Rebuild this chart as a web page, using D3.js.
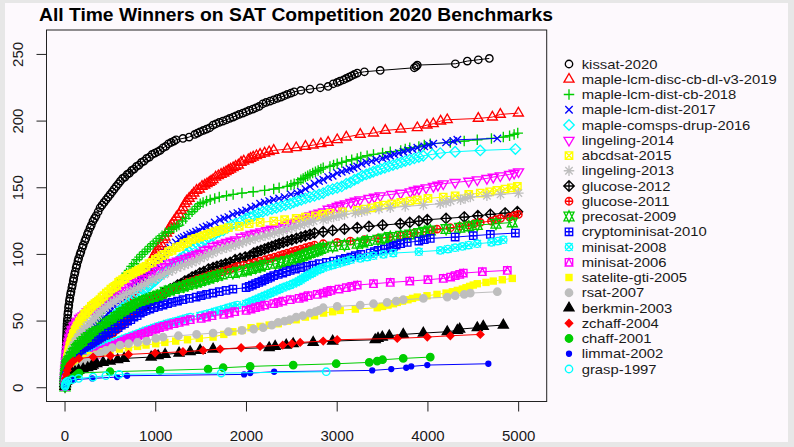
<!DOCTYPE html>
<html>
<head>
<meta charset="utf-8">
<script src="https://cdnjs.cloudflare.com/ajax/libs/d3/7.8.5/d3.min.js"></script>
<style>
  html, body { margin: 0; padding: 0; background: #e7e7e7; }
  svg { display: block; font-family: "Liberation Sans", Arial, Helvetica, sans-serif; }
</style>
</head>
<body>
<svg id="chart" width="794" height="447"></svg>
<script>
'use strict';

const solverNames = [
    'kissat-2020', 'maple-lcm-disc-cb-dl-v3-2019', 'maple-lcm-dist-cb-2018', 'maple-lcm-dist-2017',
    'maple-comsps-drup-2016', 'lingeling-2014', 'abcdsat-2015', 'lingeling-2013', 'glucose-2012',
    'glucose-2011', 'precosat-2009', 'cryptominisat-2010', 'minisat-2008', 'minisat-2006',
    'satelite-gti-2005', 'rsat-2007', 'berkmin-2003', 'zchaff-2004', 'chaff-2001', 'limmat-2002', 'grasp-1997'
];
const xTicks = [0, 1000, 2000, 3000, 4000, 5000];
const yTicks = [0, 50, 100, 150, 200, 250];

// [time in seconds, number of solved instances]
const kissat2020 = [[0,2],[0,4],[1,6],[1,8],[2,10],[2,12],[3,14],[4,16],[5,18],[6,20],[7,22],[8,24],[10,26],[11,28],[12,30],[13,32],[14,34],[15,36],[16,38],[18,40],[19,42],[20,44],[21,46],[22,48],[24,50],[27,52],[30,55],[34,57],[38,60],[42,62],[48,65],[53,67],[60,70],[66,72],[75,75],[81,77],[90,80],[96,82],[105,85],[112,87],[122,90],[130,92],[142,95],[150,97],[165,100],[175,102],[190,105],[200,107],[218,110],[230,112],[246,115],[258,117],[276,120],[290,122],[308,125],[325,127],[342,129],[365,132],[386,135],[408,137],[430,139],[452,141],[475,143],[498,145],[520,147],[542,149],[565,151],[588,153],[610,155],[635,157],[660,158],[685,160],[710,161],[735,163],[760,164],[788,166],[815,167],[842,169],[870,170],[900,172],[930,173],[960,175],[990,176],[1020,177],[1048,178],[1080,180],[1110,181],[1140,183],[1170,184],[1200,185],[1224,186],[1300,187],[1368,188],[1430,190],[1460,191],[1489,192],[1525,193],[1560,194],[1595,195],[1632,197],[1665,198],[1700,199],[1740,200],[1780,201],[1815,202],[1853,203],[1885,204],[1920,205],[1960,206],[1996,207],[2030,208],[2070,209],[2105,210],[2140,211],[2180,213],[2217,214],[2260,215],[2300,216],[2340,217],[2380,218],[2415,219],[2450,220],[2490,221],[2526,222],[2600,223],[2700,224],[2813,225],[2900,226],[2956,228],[3000,229],[3030,230],[3070,231],[3100,232],[3130,233],[3160,234],[3190,235],[3221,236],[3300,237],[3474,238],[3850,240],[3870,241],[3883,242],[4302,243],[4434,245],[4555,246],[4677,247]];
const maple2019 = [[0,1],[1,3],[3,5],[6,7],[10,8],[17,10],[25,11],[35,13],[45,14],[57,16],[70,17],[85,19],[100,20],[118,22],[135,23],[152,25],[170,26],[190,28],[210,29],[230,31],[250,32],[270,34],[290,35],[310,37],[330,38],[350,40],[370,41],[390,43],[410,44],[430,46],[450,47],[470,48],[490,49],[510,50],[530,51],[550,53],[570,55],[590,57],[610,59],[630,60],[650,62],[670,64],[690,66],[710,68],[730,70],[750,72],[770,74],[790,76],[810,78],[830,80],[850,83],[870,85],[890,88],[910,90],[930,93],[950,95],[970,98],[987,100],[1004,102],[1022,104],[1040,106],[1060,108],[1080,111],[1100,113],[1120,116],[1140,118],[1160,121],[1180,123],[1200,125],[1228,128],[1257,130],[1280,133],[1300,135],[1320,138],[1340,140],[1368,142],[1395,144],[1420,146],[1450,148],[1480,149],[1510,151],[1540,152],[1565,153],[1590,154],[1610,155],[1632,156],[1660,158],[1690,159],[1720,160],[1750,161],[1775,162],[1800,163],[1825,164],[1853,165],[1880,166],[1910,167],[1940,169],[1970,170],[2020,171],[2045,172],[2074,173],[2110,174],[2150,175],[2200,176],[2250,177],[2300,178],[2450,179],[2548,180],[2650,181],[2735,182],[2820,183],[2900,184],[3000,186],[3100,188],[3254,190],[3400,191],[3530,193],[3700,194],[3883,195],[3990,197],[4059,198],[4140,200],[4213,201],[4555,202],[4710,203],[4798,205],[4997,206]];
const maple2018 = [[0,1],[1,3],[3,5],[5,7],[8,8],[11,10],[15,11],[20,13],[25,14],[32,16],[40,17],[50,19],[60,20],[72,22],[85,23],[97,25],[110,26],[125,28],[140,29],[155,31],[170,32],[185,34],[200,36],[218,38],[235,40],[252,42],[270,44],[285,46],[300,48],[320,50],[340,52],[360,54],[380,56],[400,58],[420,60],[440,62],[460,64],[480,66],[500,68],[525,71],[550,73],[575,76],[600,78],[625,81],[650,83],[678,86],[706,88],[733,91],[760,93],[790,96],[820,98],[850,100],[880,102],[910,104],[940,106],[972,108],[1004,110],[1037,112],[1070,114],[1105,116],[1140,117],[1170,119],[1200,120],[1230,121],[1257,122],[1295,125],[1330,127],[1365,130],[1400,132],[1430,134],[1460,136],[1490,138],[1522,139],[1560,140],[1600,141],[1650,142],[1700,143],[1780,144],[1853,145],[1950,146],[2074,147],[2200,148],[2300,149],[2360,150],[2450,151],[2490,152],[2526,153],[2565,154],[2600,156],[2625,157],[2650,158],[2675,159],[2700,160],[2730,161],[2760,162],[2790,163],[2820,164],[2846,165],[2920,166],[2960,167],[3000,168],[3050,169],[3100,170],[3160,171],[3221,172],[3260,173],[3330,174],[3400,175],[3500,176],[3585,177],[3700,178],[3750,179],[3800,180],[3900,181],[3960,182],[4026,183],[4247,184],[4400,185],[4544,186],[4700,187],[4831,188],[4900,189],[4950,190],[4990,191]];
const maple2017 = [[0,1],[1,3],[2,5],[4,7],[6,8],[9,10],[12,11],[16,13],[20,14],[27,16],[35,17],[45,19],[55,20],[67,22],[80,23],[95,25],[110,26],[122,28],[135,29],[150,31],[165,32],[182,34],[200,35],[220,37],[240,38],[260,40],[280,41],[300,43],[320,44],[340,46],[360,47],[380,49],[400,50],[420,52],[440,53],[460,55],[480,56],[500,58],[520,59],[540,61],[560,62],[583,64],[607,66],[628,68],[650,69],[675,71],[700,73],[725,75],[750,76],[775,78],[800,79],[825,81],[850,82],[875,84],[900,85],[920,87],[938,88],[960,90],[980,91],[1005,93],[1030,95],[1055,97],[1080,99],[1105,101],[1130,103],[1160,105],[1190,107],[1222,109],[1257,111],[1285,112],[1310,113],[1345,114],[1380,115],[1410,116],[1445,117],[1480,118],[1520,120],[1560,121],[1600,122],[1650,124],[1710,126],[1755,127],[1800,128],[1850,130],[1900,131],[1950,132],[1996,133],[2050,135],[2100,136],[2150,138],[2200,139],[2250,140],[2300,141],[2360,142],[2420,143],[2490,145],[2559,146],[2600,147],[2650,149],[2700,151],[2750,153],[2800,155],[2846,156],[2900,158],[2950,159],[3000,161],[3050,162],[3100,163],[3140,164],[3180,165],[3221,166],[3270,168],[3320,169],[3380,170],[3430,171],[3500,172],[3540,173],[3585,174],[3630,175],[3680,176],[3730,177],[3780,178],[3830,179],[3883,180],[3960,181],[4010,182],[4059,183],[4200,184],[4280,185],[4324,186],[4765,187]];
const maple2016 = [[0,1],[1,3],[2,5],[4,7],[6,8],[9,10],[12,11],[17,13],[22,14],[30,16],[40,17],[50,18],[60,19],[75,21],[90,22],[107,24],[125,25],[145,27],[165,28],[187,30],[210,31],[232,33],[255,34],[278,36],[300,37],[322,39],[345,40],[365,42],[386,43],[408,45],[430,46],[452,48],[475,49],[497,51],[520,52],[542,54],[565,55],[586,57],[607,58],[633,60],[660,61],[690,63],[720,65],[750,66],[780,68],[810,70],[840,71],[865,73],[890,74],[915,76],[938,77],[965,79],[990,80],[1020,82],[1050,84],[1080,86],[1110,87],[1140,89],[1170,91],[1195,92],[1220,94],[1245,95],[1268,97],[1300,98],[1330,100],[1365,102],[1400,104],[1435,105],[1470,107],[1510,109],[1550,111],[1590,113],[1632,114],[1665,116],[1700,117],[1745,118],[1790,120],[1835,122],[1880,123],[1940,125],[1996,127],[2040,128],[2080,129],[2130,131],[2180,132],[2230,133],[2280,134],[2330,135],[2380,136],[2430,137],[2482,138],[2520,139],[2560,140],[2605,141],[2650,142],[2700,143],[2750,144],[2800,145],[2846,146],[2900,148],[2950,149],[3000,150],[3050,151],[3100,153],[3144,154],[3190,156],[3230,157],[3275,159],[3320,160],[3360,161],[3397,162],[3440,163],[3480,164],[3525,165],[3570,166],[3615,167],[3662,168],[3705,169],[3750,170],[3800,171],[3850,172],[3900,173],[3949,174],[4050,175],[4136,176],[4300,177],[4577,178],[4964,179]];
const lingeling2014 = [[0,1],[1,3],[2,5],[3,7],[4,8],[5,10],[6,11],[7,13],[9,14],[10,16],[12,17],[14,19],[16,20],[18,22],[20,23],[22,25],[25,26],[28,28],[31,29],[34,31],[38,32],[42,34],[46,35],[50,37],[55,38],[62,40],[68,41],[76,43],[85,44],[97,46],[110,47],[125,49],[140,50],[160,52],[180,53],[200,54],[221,55],[245,57],[270,58],[300,59],[330,60],[358,61],[386,62],[418,64],[450,65],[485,67],[520,68],[555,70],[590,72],[625,73],[662,75],[700,76],[740,78],[780,79],[820,81],[860,82],[900,84],[935,85],[971,87],[1015,88],[1060,90],[1105,91],[1150,93],[1195,94],[1240,95],[1285,96],[1330,97],[1370,98],[1410,99],[1450,100],[1489,101],[1535,103],[1580,104],[1630,106],[1680,107],[1730,108],[1780,109],[1830,110],[1880,111],[1940,113],[1996,114],[2050,115],[2100,116],[2160,117],[2220,118],[2275,119],[2330,120],[2385,121],[2440,122],[2495,123],[2548,124],[2600,126],[2650,127],[2700,129],[2750,130],[2800,131],[2850,132],[2900,134],[2950,135],[3000,136],[3033,137],[3090,138],[3150,139],[3200,140],[3250,141],[3350,142],[3410,143],[3474,144],[3600,145],[3700,146],[3805,147],[3850,148],[3900,149],[3980,150],[4060,151],[4110,152],[4169,153],[4300,154],[4450,155],[4544,156],[4650,157],[4720,158],[4798,159],[4900,160],[4950,161],[4999,162]];
const abcdsat2015 = [[0,1],[1,3],[2,5],[3,6],[5,8],[7,10],[9,11],[11,13],[13,14],[15,16],[18,17],[21,19],[24,20],[27,22],[31,23],[35,25],[39,26],[43,28],[48,29],[53,31],[58,32],[64,34],[70,35],[77,37],[85,38],[92,40],[100,41],[110,43],[120,44],[132,46],[145,47],[157,49],[170,50],[185,52],[200,53],[216,55],[232,56],[250,58],[270,59],[290,61],[310,62],[330,63],[350,64],[368,65],[386,66],[408,68],[430,69],[455,71],[480,72],[505,74],[530,75],[550,76],[570,77],[590,79],[607,80],[635,81],[660,82],[690,84],[720,85],[750,86],[780,87],[810,88],[840,89],[865,90],[893,91],[925,93],[960,94],[995,96],[1030,97],[1065,99],[1100,100],[1140,102],[1180,103],[1225,105],[1268,106],[1310,108],[1350,109],[1395,111],[1440,112],[1485,113],[1530,114],[1570,115],[1610,116],[1655,117],[1699,118],[1750,119],[1800,120],[1920,121],[2030,123],[2151,124],[2300,125],[2420,126],[2548,127],[2650,128],[2760,129],[2840,130],[2923,131],[3060,132],[3221,133],[3300,134],[3380,135],[3450,136],[3508,137],[3600,138],[3700,139],[3800,140],[3883,141],[4000,142],[4169,143],[4300,144],[4450,145],[4577,146],[4680,147],[4760,148],[4850,149],[4920,150],[4986,151]];
const lingeling2013 = [[0,1],[1,3],[3,5],[5,7],[7,8],[9,10],[12,11],[15,13],[18,14],[21,16],[25,17],[30,19],[35,20],[41,22],[48,23],[55,25],[62,26],[70,28],[80,29],[90,31],[100,32],[112,34],[125,35],[137,37],[150,38],[165,40],[180,41],[197,43],[215,44],[235,46],[255,47],[277,49],[300,50],[322,52],[345,54],[365,55],[386,57],[413,58],[440,60],[470,61],[500,63],[535,64],[570,66],[605,67],[640,69],[678,70],[717,72],[758,73],[800,75],[840,76],[880,78],[920,79],[960,81],[1005,82],[1048,84],[1095,85],[1140,87],[1185,88],[1230,90],[1275,91],[1320,92],[1360,93],[1400,94],[1445,95],[1489,97],[1535,98],[1580,100],[1630,101],[1680,103],[1730,104],[1780,105],[1830,106],[1880,107],[1920,108],[1960,109],[2000,110],[2041,111],[2095,112],[2150,113],[2205,114],[2260,115],[2310,116],[2360,117],[2405,118],[2450,119],[2500,120],[2548,121],[2595,122],[2640,123],[2690,124],[2740,125],[2846,126],[2900,127],[2960,128],[3020,129],[3080,130],[3200,131],[3270,132],[3330,133],[3460,134],[3585,135],[3750,136],[3950,137],[4136,138],[4200,139],[4250,140],[4360,141],[4410,142],[4467,143],[4650,144],[4800,145],[4997,146]];
const glucose2012 = [[0,1],[2,3],[3,5],[5,7],[7,8],[9,10],[12,11],[16,13],[20,14],[25,16],[30,17],[37,18],[45,19],[55,20],[65,21],[75,22],[85,23],[97,24],[110,25],[130,26],[150,27],[175,29],[200,30],[225,32],[250,33],[280,35],[310,36],[348,38],[386,40],[418,41],[450,43],[485,45],[520,46],[550,47],[580,48],[610,50],[640,51],[670,53],[700,54],[735,56],[770,57],[805,59],[840,60],[875,62],[910,63],[945,65],[980,66],[1015,68],[1048,69],[1085,71],[1120,72],[1160,74],[1200,75],[1240,77],[1280,78],[1320,80],[1360,81],[1400,83],[1440,84],[1485,86],[1530,87],[1580,89],[1632,90],[1675,91],[1720,92],[1770,93],[1820,94],[1875,96],[1930,97],[1985,98],[2041,99],[2080,101],[2120,102],[2160,103],[2200,104],[2240,105],[2280,106],[2320,107],[2360,108],[2405,109],[2450,110],[2500,111],[2550,112],[2600,113],[2650,114],[2700,115],[2750,116],[2846,117],[2950,118],[3080,119],[3221,120],[3350,121],[3500,122],[3695,123],[3800,124],[3900,125],[3993,126],[4200,127],[4400,128],[4550,129],[4688,130],[4850,131],[4986,132]];
const glucose2011 = [[0,1],[2,3],[3,5],[5,7],[7,8],[10,10],[13,11],[17,13],[22,14],[28,16],[35,17],[45,18],[55,19],[67,20],[80,21],[95,22],[110,23],[130,24],[154,25],[177,26],[200,27],[225,28],[250,29],[275,30],[300,31],[342,32],[370,34],[400,35],[430,37],[460,38],[495,40],[530,41],[555,43],[580,44],[605,46],[630,47],[655,49],[680,50],[705,52],[730,54],[755,55],[780,57],[800,59],[816,60],[848,62],[880,63],[920,65],[960,66],[1005,68],[1048,69],[1090,71],[1130,72],[1175,74],[1220,75],[1260,76],[1300,77],[1350,79],[1400,80],[1445,81],[1489,82],[1535,83],[1580,84],[1630,85],[1680,86],[1730,87],[1780,88],[1820,89],[1860,90],[1900,91],[1970,92],[2041,93],[2095,94],[2150,95],[2205,96],[2260,97],[2310,98],[2360,99],[2405,100],[2450,101],[2500,102],[2548,103],[2600,104],[2650,105],[2700,106],[2750,107],[2846,108],[3000,109],[3144,110],[3300,111],[3450,112],[3580,113],[3695,114],[3770,115],[3850,116],[3980,117],[4040,118],[4100,119],[4247,120],[4350,121],[4450,122],[4510,123],[4577,124],[4700,125],[4750,126],[4800,127],[4900,128],[4950,129],[4997,130]];
const precosat2009 = [[0,1],[1,3],[2,5],[4,7],[5,8],[7,10],[9,11],[11,13],[14,14],[18,16],[22,17],[28,18],[35,19],[45,20],[55,21],[67,23],[80,24],[95,26],[110,27],[125,29],[140,30],[152,31],[165,32],[187,34],[210,35],[235,37],[260,38],[290,40],[320,41],[353,42],[386,43],[408,45],[430,46],[455,48],[480,49],[505,50],[530,51],[560,53],[590,54],[620,56],[650,57],[685,59],[720,60],[750,61],[780,62],[805,63],[827,64],[865,65],[900,66],[940,67],[980,68],[1020,69],[1060,70],[1105,72],[1150,73],[1200,74],[1257,75],[1305,76],[1350,77],[1400,78],[1450,79],[1495,80],[1540,81],[1585,82],[1632,83],[1680,84],[1730,85],[1850,86],[1920,87],[1996,88],[2050,89],[2100,90],[2150,91],[2200,92],[2320,93],[2380,94],[2440,95],[2495,96],[2548,97],[2585,98],[2620,99],[2660,100],[2700,101],[2740,102],[2780,103],[2815,104],[2846,105],[2950,106],[3080,107],[3221,108],[3280,109],[3330,110],[3450,111],[3520,112],[3585,113],[3700,114],[3800,115],[3900,116],[3960,117],[4026,118],[4200,119],[4350,120],[4450,121],[4544,122],[4750,123],[4930,124]];
const cryptominisat2010 = [[0,1],[2,2],[3,4],[5,5],[8,6],[11,7],[15,8],[20,9],[25,10],[32,11],[40,12],[50,13],[60,14],[72,15],[85,16],[110,17],[130,19],[150,20],[170,22],[190,23],[212,25],[235,26],[255,27],[276,28],[298,30],[320,31],[345,33],[370,35],[395,36],[419,38],[450,39],[480,41],[515,42],[550,44],[585,45],[620,47],[655,48],[690,50],[725,51],[760,53],[795,54],[830,56],[860,57],[893,58],[935,59],[980,60],[1030,61],[1080,62],[1130,63],[1180,64],[1240,65],[1300,66],[1370,67],[1445,68],[1500,69],[1560,70],[1630,71],[1700,72],[1775,73],[1850,74],[1996,75],[2030,76],[2065,77],[2100,78],[2135,79],[2170,80],[2200,81],[2235,82],[2265,83],[2300,84],[2350,85],[2400,86],[2440,87],[2482,88],[2540,89],[2600,90],[2665,91],[2730,92],[2800,93],[2880,94],[2960,95],[3033,96],[3090,97],[3150,98],[3200,99],[3260,100],[3364,101],[3410,102],[3450,103],[3520,104],[3585,105],[3620,106],[3650,107],[3700,108],[3772,109],[3900,110],[3960,111],[4026,112],[4300,113],[4500,114],[4688,115],[4964,116]];
const minisat2008 = [[0,1],[1,2],[3,3],[5,4],[8,5],[11,6],[15,7],[20,8],[25,9],[32,10],[40,11],[70,12],[110,13],[125,14],[138,15],[150,16],[167,17],[183,18],[200,19],[213,20],[227,21],[240,22],[258,23],[276,24],[303,25],[330,26],[355,27],[378,28],[400,29],[425,30],[450,31],[473,32],[496,33],[538,34],[580,35],[620,36],[660,37],[700,38],[740,39],[780,40],[820,41],[857,42],[893,43],[937,44],[980,45],[1025,46],[1070,47],[1120,48],[1170,49],[1225,50],[1280,51],[1330,52],[1380,53],[1489,54],[1545,55],[1600,56],[1650,57],[1700,58],[1750,59],[1800,60],[1850,61],[1900,62],[1996,63],[2030,64],[2065,65],[2100,66],[2135,67],[2165,68],[2200,69],[2235,70],[2265,71],[2300,72],[2335,73],[2365,74],[2400,75],[2440,76],[2480,77],[2515,78],[2548,79],[2575,80],[2600,81],[2620,82],[2645,83],[2670,84],[2700,85],[2725,86],[2750,87],[2780,88],[2815,89],[2846,90],[2900,91],[2950,92],[3000,93],[3050,94],[3100,95],[3150,96],[3254,97],[3330,98],[3400,99],[3510,100],[3618,101],[3900,102],[4136,103],[4220,104],[4300,105],[4380,106],[4450,107],[4544,108],[4700,109],[4770,110],[4831,111]];
const minisat2006 = [[0,1],[1,2],[3,3],[5,4],[8,5],[11,6],[15,7],[25,8],[40,9],[55,10],[67,11],[80,12],[95,13],[110,14],[125,15],[140,16],[165,17],[187,18],[210,19],[227,20],[243,21],[260,22],[290,23],[320,24],[342,25],[364,26],[386,27],[418,28],[450,29],[485,30],[520,31],[555,32],[590,33],[620,34],[650,35],[683,36],[717,37],[758,38],[800,39],[840,40],[880,41],[920,42],[960,43],[1000,44],[1040,45],[1090,46],[1140,47],[1200,48],[1257,49],[1320,50],[1380,51],[1500,52],[1560,53],[1620,54],[1750,55],[1810,56],[1870,57],[1996,58],[2050,59],[2100,60],[2150,61],[2200,62],[2300,63],[2350,64],[2400,65],[2482,66],[2580,67],[2630,68],[2680,69],[2780,70],[2846,71],[2890,72],[2930,73],[3020,74],[3100,75],[3160,76],[3221,77],[3400,78],[3585,79],[3800,80],[4000,81],[4169,82],[4250,83],[4300,84],[4350,85],[4390,86],[4600,87],[4875,88]];
const sateliteGti2005 = [[0,1],[3,2],[8,4],[15,6],[25,7],[40,8],[55,10],[80,12],[110,14],[140,16],[170,18],[200,20],[232,22],[280,24],[350,25],[420,27],[496,28],[600,29],[700,30],[800,31],[893,32],[1000,33],[1100,34],[1220,35],[1350,36],[1480,37],[1632,38],[1750,40],[1850,42],[1950,43],[2050,45],[2150,46],[2250,47],[2350,48],[2450,50],[2548,51],[2650,53],[2750,54],[2850,56],[2950,57],[3033,58],[3200,59],[3441,60],[3500,61],[3560,62],[3620,63],[3662,64],[3720,65],[3780,66],[3830,67],[3883,68],[3990,69],[4100,70],[4200,71],[4270,72],[4324,73],[4380,74],[4420,75],[4460,76],[4500,77],[4544,78],[4640,79],[4720,80],[4820,81],[4930,82]];
const rsat2007 = [[0,1],[3,2],[8,4],[15,6],[25,8],[40,9],[60,10],[85,12],[110,13],[150,15],[190,17],[235,20],[276,22],[330,24],[390,26],[450,28],[520,30],[607,32],[700,33],[800,34],[900,35],[1000,37],[1081,38],[1250,39],[1450,40],[1632,41],[1800,42],[1950,43],[2080,44],[2184,45],[2280,47],[2350,49],[2420,50],[2480,51],[2548,53],[2620,54],[2700,56],[2760,57],[2800,58],[2846,60],[3000,61],[3254,62],[3400,63],[3550,64],[3650,65],[3728,66],[3950,67],[4213,68],[4300,69],[4400,70],[4467,71],[4765,72]];
const berkmin2003 = [[0,1],[5,3],[15,5],[30,7],[50,9],[80,11],[110,12],[150,13],[200,14],[250,15],[290,16],[309,17],[350,18],[420,19],[496,20],[580,21],[651,22],[949,23],[1026,24],[1103,25],[1257,26],[1379,27],[1489,28],[1632,29],[2250,30],[2316,31],[2438,32],[2515,33],[2735,34],[2950,35],[3419,36],[3450,37],[3497,38],[3574,39],[3728,40],[3949,41],[4213,42],[4324,43],[4350,44],[4544,45],[4610,46],[4831,47]];
const zchaff2004 = [[0,1],[3,4],[8,7],[15,10],[25,13],[40,16],[60,18],[90,20],[154,22],[309,23],[500,24],[700,25],[993,26],[1300,27],[1522,28],[1710,29],[1941,30],[2150,31],[2400,32],[2500,33],[2592,34],[2846,35],[3000,36],[3662,37],[3993,38],[4247,39],[4577,40]];
const chaff2001 = [[0,1],[3,2],[6,3],[10,4],[30,5],[60,6],[80,7],[100,8],[120,9],[140,10],[154,11],[496,12],[1048,13],[1577,14],[1743,15],[2041,16],[2515,17],[2989,18],[3353,19],[3441,20],[3500,21],[3728,22],[4026,23]];
const limmat2002 = [[0,1],[3,2],[10,3],[25,4],[44,5],[100,6],[300,7],[574,8],[684,9],[1974,10],[2041,11],[2305,12],[3386,13],[3596,14],[3761,15],[3816,16],[3993,17],[4666,18]];
const grasp1997 = [[0,1],[2,2],[5,3],[12,4],[30,5],[80,6],[150,7],[309,8],[450,9],[596,10],[1721,11],[2879,12]];

const solverSeries = [kissat2020, maple2019, maple2018, maple2017, maple2016, lingeling2014, abcdsat2015,
    lingeling2013, glucose2012, glucose2011, precosat2009, cryptominisat2010, minisat2008, minisat2006,
    sateliteGti2005, rsat2007, berkmin2003, zchaff2004, chaff2001, limmat2002, grasp1997];

// R's old default palette, series i gets col = i and pch = i
const rPalette = ['#000000', '#FF0000', '#00CD00', '#0000FF', '#00FFFF', '#FF00FF', '#FFFF00', '#BEBEBE'];

const h = 3.7; // symbol radius
const sw = 1.35; // symbol line width

const margin = {left: 46.5, right: 546.7, top: 30, bottom: 401.5};
const xlim = [0, 5105];
const ylim = [0, 258];
const xpad = (xlim[1] - xlim[0]) * 0.04;
const ypad = (ylim[1] - ylim[0]) * 0.04;

const x = d3.scaleLinear().domain([xlim[0] - xpad, xlim[1] + xpad]).range([margin.left, margin.right]);
const y = d3.scaleLinear().domain([ylim[0] - ypad, ylim[1] + ypad]).range([margin.bottom, margin.top]);

let circlePath = (r) => `M${r},0A${r},${r} 0 1,1 ${-r},0A${r},${r} 0 1,1 ${r},0Z`;
let polyPath = (pts) => 'M' + pts.map(p => p.join(',')).join('L') + 'Z';
let plusPath = (a) => `M${-a},0H${a}M0,${-a}V${a}`;
let crossPath = (a) => `M${-a},${-a}L${a},${a}M${-a},${a}L${a},${-a}`;
let squarePath = (a) => `M${-a},${-a}H${a}V${a}H${-a}Z`;
let diamondPath = (a) => `M0,${-a}L${a},0L0,${a}L${-a},0Z`;
let triPath = (dir) => {
    const r = 1.5551 * h, xc = 1.3468 * h, yc = 0.7776 * h;
    return polyPath([[0, -r * dir], [xc, yc * dir], [-xc, yc * dir]]);
};

let symbolSpec = (pch, col) => {
    const open = {fill: 'none', stroke: col};
    const solid = {fill: col, stroke: col};
    switch (pch) {
        case 1: return {d: circlePath(h), ...open};
        case 2: return {d: triPath(1), ...open};
        case 3: return {d: plusPath(1.414 * h), ...open};
        case 4: return {d: crossPath(h), ...open};
        case 5: return {d: diamondPath(1.414 * h), ...open};
        case 6: return {d: triPath(-1), ...open};
        case 7: return {d: squarePath(h) + crossPath(h), ...open};
        case 8: return {d: crossPath(h) + plusPath(1.414 * h), ...open};
        case 9: return {d: diamondPath(1.414 * h) + plusPath(1.414 * h), ...open};
        case 10: return {d: circlePath(h) + plusPath(h), ...open};
        case 11: {
            const r = 1.5551 * h, xc = 1.3468 * h, yc = 0.5 * (0.7776 * h + r);
            return {d: polyPath([[0, -r], [xc, yc], [-xc, yc]]) + polyPath([[0, r], [xc, -yc], [-xc, -yc]]), ...open};
        }
        case 12: return {d: squarePath(h) + plusPath(h), ...open};
        case 13: return {d: circlePath(h) + crossPath(h), ...open};
        case 14: return {d: squarePath(h) + polyPath([[0, -h], [h, h], [-h, h]]), ...open};
        case 15: return {d: squarePath(h), fill: col, stroke: 'none'};
        case 16: return {d: circlePath(h), ...solid};
        case 17: return {d: triPath(1), ...solid};
        case 18: return {d: diamondPath(h), ...solid};
        case 19: return {d: circlePath(h), ...solid};
        case 20: return {d: circlePath(h * 2 / 3), ...solid};
        default: return {d: circlePath(h), ...open};
    }
};

const svg = d3.select('#chart');

// page background inside the screenshot frame
svg.append('rect').attr('x', 5).attr('y', 3).attr('width', 783).attr('height', 439).attr('fill', '#fdf9fd');

// title
svg.append('text')
    .attr('x', 39).attr('y', 21)
    .attr('font-size', '18px').attr('font-weight', 'bold')
    .attr('textLength', 514).attr('lengthAdjust', 'spacingAndGlyphs')
    .attr('fill', '#000')
    .text('All Time Winners on SAT Competition 2020 Benchmarks');

// series: line first, then its points (type = "o")
const line = d3.line().x(d => x(d[0])).y(d => y(d[1]));
const plotArea = svg.append('g');

solverSeries.forEach((series, i) => {
    const col = rPalette[i % 8];
    const spec = symbolSpec(i + 1, col);
    const g = plotArea.append('g').attr('class', `series-${i}`);
    g.append('path')
        .attr('d', line(series))
        .attr('fill', 'none')
        .attr('stroke', col)
        .attr('stroke-width', 1);
    g.selectAll('path.pt')
        .data(series)
        .enter().append('path')
        .attr('class', 'pt')
        .attr('transform', d => `translate(${x(d[0])},${y(d[1])})`)
        .attr('d', spec.d)
        .attr('fill', spec.fill)
        .attr('stroke', spec.stroke)
        .attr('stroke-width', sw);
});

// box
svg.append('rect')
    .attr('x', margin.left).attr('y', margin.top)
    .attr('width', margin.right - margin.left).attr('height', margin.bottom - margin.top)
    .attr('fill', 'none').attr('stroke', '#222').attr('stroke-width', 1);

// x axis ticks and labels
const xAxis = svg.append('g');
xAxis.selectAll('line')
    .data(xTicks)
    .enter().append('line')
    .attr('x1', d => x(d)).attr('x2', d => x(d))
    .attr('y1', margin.bottom).attr('y2', margin.bottom + 10)
    .attr('stroke', '#222');
xAxis.selectAll('text')
    .data(xTicks)
    .enter().append('text')
    .attr('x', d => x(d)).attr('y', 441)
    .attr('text-anchor', 'middle')
    .attr('font-size', '15px')
    .attr('fill', '#1a1a1a')
    .text(d => d);

// y axis ticks and labels (rotated, as R does by default)
const yAxis = svg.append('g');
yAxis.selectAll('line')
    .data(yTicks)
    .enter().append('line')
    .attr('x1', margin.left - 10).attr('x2', margin.left)
    .attr('y1', d => y(d)).attr('y2', d => y(d))
    .attr('stroke', '#222');
yAxis.selectAll('text')
    .data(yTicks)
    .enter().append('text')
    .attr('transform', d => `translate(22.5,${y(d)}) rotate(-90)`)
    .attr('text-anchor', 'middle')
    .attr('font-size', '15px')
    .attr('fill', '#1a1a1a')
    .text(d => d);

// legend
const legend = svg.append('g');
const legendRows = legend.selectAll('g')
    .data(solverNames)
    .enter().append('g')
    .attr('transform', (d, i) => `translate(569,${64 + i * 15.25})`);
legendRows.append('path')
    .attr('d', (d, i) => symbolSpec(i + 1, rPalette[i % 8]).d)
    .attr('fill', (d, i) => symbolSpec(i + 1, rPalette[i % 8]).fill)
    .attr('stroke', (d, i) => symbolSpec(i + 1, rPalette[i % 8]).stroke)
    .attr('stroke-width', sw);
legendRows.append('text')
    .attr('transform', 'translate(12.7,0) scale(1.14,1)')
    .attr('dy', '0.36em')
    .attr('font-size', '13px')
    .attr('fill', '#1a1a1a')
    .text(d => d);
</script>
</body>
</html>
